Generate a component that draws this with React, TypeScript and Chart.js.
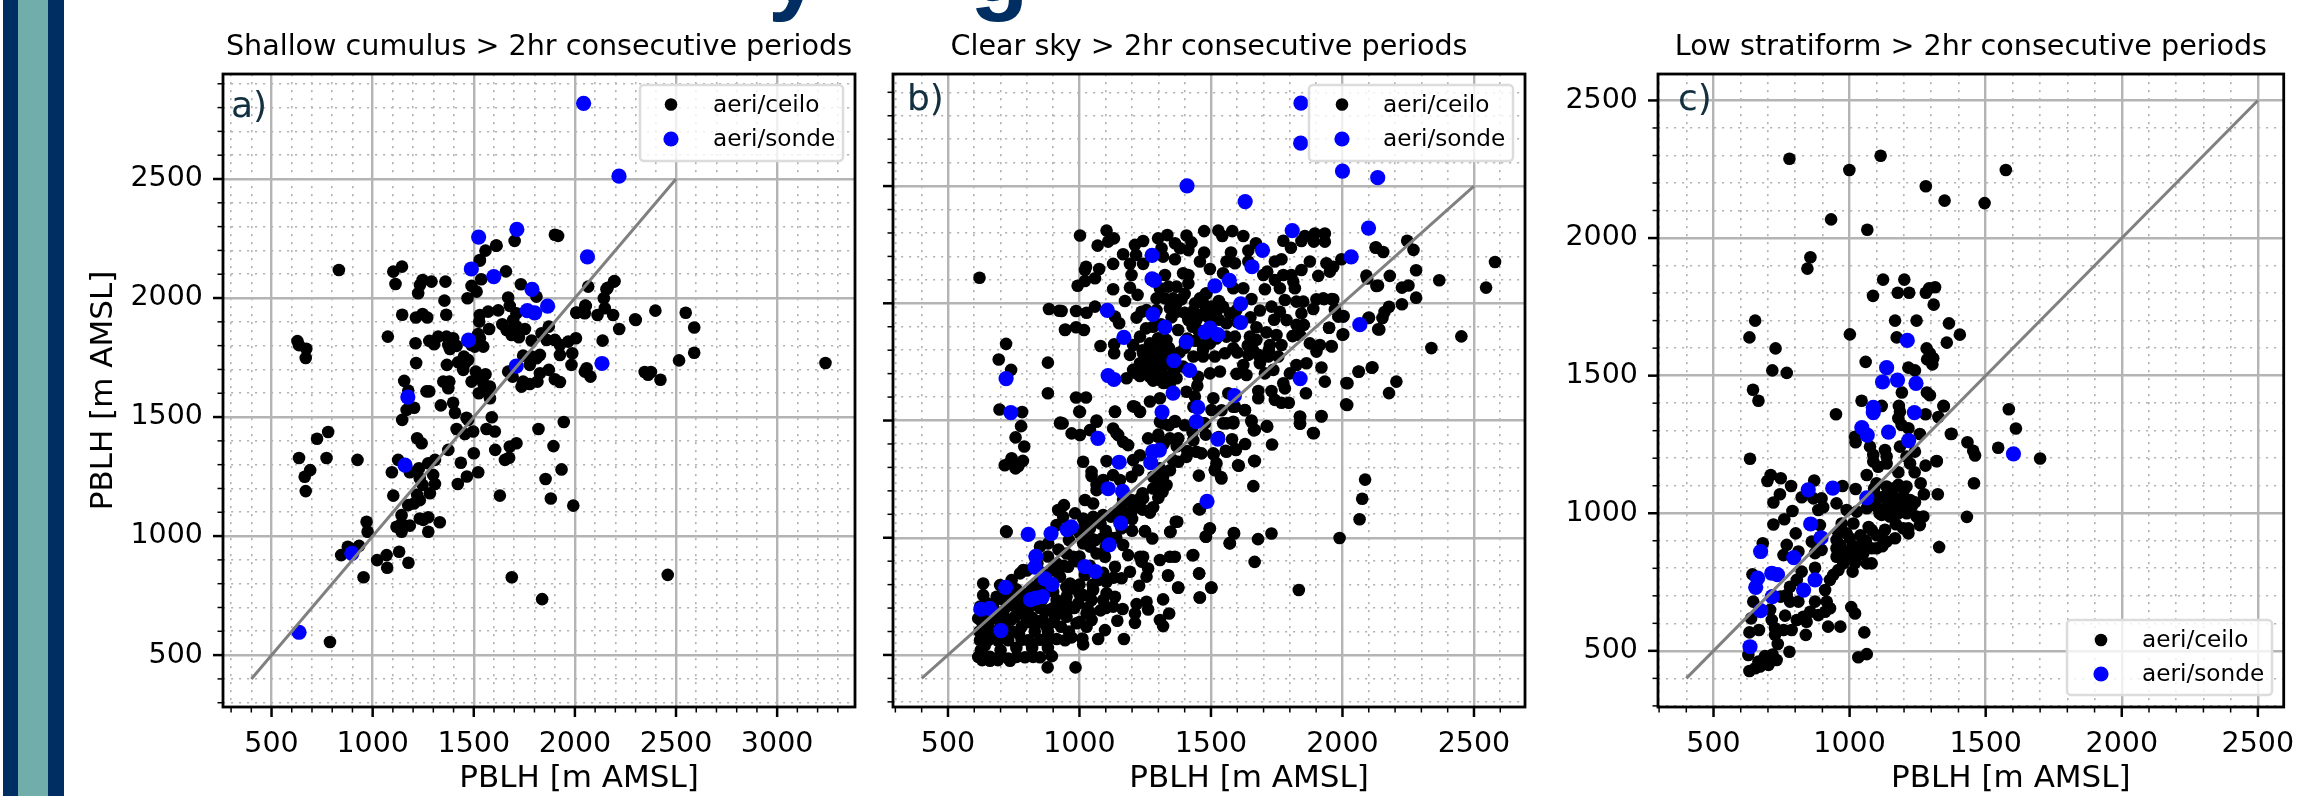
import { useEffect, useRef } from "react";
import { Chart, registerables } from "chart.js";

Chart.register(...registerables);

const seriesLabels = ["aeri/ceilo", "aeri/sonde"];
const axisLabel = "PBLH [m AMSL]";
const oneToOne = [[400, 400], [2500, 2500]];

const shallowCeilo = [
[1102,2111],[1145,2132],[1113,2059],[1291,2069],[1247,2076],[1234,2055],[1225,2020],[1360,2069],[1355,1989],[1364,1930],[1146,1930],[1214,1918],[1247,1933],[1270,1918],[1075,1838],[1212,1810],[1280,1820],[1304,1806],[1324,1838],[1365,1838],[1398,1831],[1374,1803],[1415,1799],[1382,1786],[1215,1727],[1367,1719],[1423,1730],[1451,1754],[1472,1740],[1448,1698],[1456,1726],
[1522,1849],[1530,1831],[1547,1796],[1505,1796],[1489,1803],[1530,1929],[1527,1901],[1571,1943],[1621,1948],[1576,1870],[1469,1999],[1489,2051],[1514,2027],[1537,2079],[1530,2157],[1558,2199],[1613,2220],[1659,2112],[1702,2240],[1901,2266],[1917,2261],[1733,2058],[1810,2006],[1670,2002],[1678,1967],[1711,1936],[1695,1908],[1641,1890],[1662,1866],[1687,1845],[1723,1835],[1753,1870],[1711,1880],[1786,1821],[1835,1852],[1871,1880],[1860,1824],[1901,1824],[1926,1803],[1967,1817],[2005,1831],[1926,1761],[1987,1768],[1983,1719],[1827,1761],[1786,1754],[1744,1758],[1810,1747],[1777,1719],[1670,1691],[1692,1670],[1736,1628],[1744,1649],[1777,1639],[1815,1649],[1827,1684],[1871,1698],[1901,1659],[1926,1647],[2058,1705],[2077,1670],[2049,1691],
[2066,2048],[2156,2037],[2193,2069],[2143,1999],[2148,1957],[2054,1967],[2008,1939],[2049,1936],[2112,1929],[2189,1929],[2219,1870],[2298,1911],[2137,1821],
[1349,1649],[1379,1649],[1374,1621],[1156,1652],[1176,1611],[1266,1608],[1280,1608],[1205,1539],[1168,1530],[1146,1488],[1337,1549],[1398,1560],[1407,1518],[1464,1497],[1510,1691],[1489,1649],[1530,1663],[1558,1680],[1547,1642],[1580,1628],[1571,1607],[1525,1600],[1580,1579],[1589,1499],[1415,1450],[1456,1429],[1497,1439],[1563,1450],[1604,1439],[1820,1450],[1945,1479],[1472,1488],
[1220,1411],[1242,1390],[1374,1362],[1500,1348],[1606,1362],[1678,1376],[1711,1390],[1654,1320],[1675,1329],[1894,1378],[1934,1280],[1436,1308],[1522,1268],[1466,1250],[1421,1219],[1855,1240],[1629,1170],[1881,1158],[1992,1128],[925,1320],[1126,1320],[1095,1268],[1184,1268],[1229,1285],[1275,1306],[1308,1320],[1299,1257],[1233,1243],[1308,1219],[1247,1215],[1283,1180],[1220,1173],[1102,1170],[1233,1151],[1204,1137],[1176,1130],[1143,1088],[1233,1074],[1275,1079],[1332,1058],[1143,1053],[1118,1039],[1184,1044],[1143,1018],[1275,1018],[1250,1068],[970,1060],[975,1018],[1131,934],[1069,920],[1022,899],[1177,888],
[844,920],[877,955],[933,959],[900,945],[1072,867],[955,827],[789,555],[1688,827],[1838,735],[2459,837],[725,1409],[780,1437],[636,1328],[772,1328],[691,1277],[664,1249],[669,1189],[628,1819],[636,1802],[672,1787],[669,1748],[833,2118],
[2007,1938],[2046,1938],[2051,1968],[2162,2043],[2196,2071],[2301,1908],[2398,1947],[2548,1938],[2590,1876],[2590,1770],[2515,1738],[3239,1727],[2345,1689],[2376,1689],[2362,1678],[2423,1657],[1530,2160],[1610,2220],
];
const shallowSonde = [
[2043,2818],[2218,2512],[1524,2256],[1713,2288],[2062,2173],[1488,2122],[1599,2090],[1788,2036],[1865,1966],[1765,1947],[1801,1938],[1474,1823],[1710,1714],[2134,1725],[1174,1584],[1160,1298],[897,927],[636,596],
];

const clearCeilo = [
[1002,2289],[1103,2310],[1131,2277],[1109,2263],[1069,2246],[1211,2249],[1242,2266],[1299,2277],[1334,2291],[1363,2256],[1407,2289],[1426,2260],[1414,2227],[1382,2235],[1312,2235],[1474,2308],[1528,2310],[1543,2287],[1581,2308],[1623,2287],[1166,2209],[1215,2206],[1192,2168],[1242,2168],[1318,2199],[1363,2188],[1458,2178],[1474,2217],[1576,2217],[1559,2178],[1591,2171],[1642,2225],[1642,2178],[1671,2256],[1775,2267],[1804,2237],[1857,2287],[1844,2266],[1895,2298],[1933,2298],[1891,2263],[1933,2263],[1996,2188],[2126,2237],[1939,2171],[1965,2156],[1952,2135],[1876,2178],[1844,2142],[1768,2188],[1743,2178],[1714,2135],[1699,2121],[1743,2099],[1775,2121],[1806,2121],[1813,2092],[1819,2064],[1762,2064],[1705,2060],[1908,2117],[2091,2118],[2129,2074],
[1025,2156],[1075,2146],[1021,2142],[1128,2168],[1059,2107],[1021,2095],[993,2075],[1198,2121],[1192,2067],[1128,2060],[1221,2036],[1173,2010],[1293,2021],[1306,2064],[1325,2121],[1338,2071],[1369,2071],[1394,2128],[1414,2121],[1414,2085],[1388,2017],[1356,2021],[1325,2021],[1458,2021],[1483,2043],[1470,2000],[1496,2146],[1546,2128],[1585,2064],[1623,2064],[1654,2018],[1546,1986],[1502,1986],[1572,1957],[1433,1967],[1369,1964],[1344,1979],[1236,1964],[1217,1939],[1059,1986],[1027,1960],[987,1967],[932,1967],[1151,1915],[1135,1943],[945,1886],[987,1898],[1017,1886],[1253,1893],[1230,1858],[1299,1851],[1204,1822],[1192,1780],[1132,1825],[1080,1818],[1132,1787],[1375,1886],[1331,1844],[1306,1801],[1274,1787],[1255,1751],[1230,1744],[1414,1929],[1445,1929],[1451,1886],[1496,1829],[1470,1822],[1470,1773],[1515,1773],[1553,1787],[1585,1808],[1591,1858],
[1686,1969],[1730,1986],[1762,1964],[1673,1898],[1648,1858],[1673,1844],[1711,1876],[1749,1865],[1724,1822],[1768,1822],[1787,1929],[1825,1908],[1853,1908],[1838,1865],[1876,1829],[1914,1822],[1901,1794],[1958,1818],[1949,1896],[2003,1868],[1984,1943],[2003,1943],[1927,2021],[1965,2017],[1901,2017],[1825,2007],[1851,2007],[1781,2014],[1889,1976],[1844,1957],[2101,1939],[2136,1889],[1642,1780],[1680,1780],[1718,1773],[1756,1773],[1686,1744],[1623,1737],[1635,1694],[1597,1699],[1705,1701],[1737,1716],[1825,1737],[1863,1744],[1920,1726],[1800,1701],[1775,1659],[1781,1637],[1933,1666],[1861,1616],[2019,1659],[2018,1566],[2062,1709],[2114,1727],[1730,1626],[1743,1588],[1768,1576],[1796,1576],[1680,1626],[1680,1595],[1629,1545],[1591,1559],[1566,1616],[1509,1595],[1502,1545],[1496,1701],[1534,1709],[1451,1687],[1448,1648],[1407,1623],[1439,1602],[1306,1595],[1268,1581],[1211,1559],[1230,1538],[1135,1538],[999,1538],[987,1598],[1025,1598],[1477,1488],[1433,1559],[1363,1498],[1306,1495],[1065,1500],[936,1488],[1546,1488],[1585,1495],[1654,1500],[1714,1474],[1667,1460],[1838,1517],[1838,1488],[1920,1517],[1891,1446],
[1217,1701],[1249,1701],[1179,1680],[1204,1716],[1268,1730],[1293,1701],[1331,1687],[1369,1680],[1306,1673],[1344,1659],[1242,1787],[1280,1744],[1325,1737],[1470,1801],[1394,1730],[1268,1829],[1293,1971],[1255,1971],[1369,2000],[1483,1986],[1521,1964],[1559,1915],[1597,1971],[1306,1758],[1356,1773],[1268,1687],[1433,1773],[1483,1879],[1559,1858],
[1240,1800],[1260,1760],[1290,1780],[1310,1830],[1340,1810],[1350,1750],[1380,1790],[1410,1850],[1430,1900],[1460,1950],[1500,1900],[1530,1930],[1520,1850],[1440,1840],[1400,1810],[1230,1690],[1290,1730],[1330,1780],[1360,1710],[1300,1720],[1260,1700],[1280,1670],[1320,1660],[1400,2040],[1440,2000],[1480,2040],[1530,2010],[1350,1940],[1310,1910],[1280,1900],[1400,1960],[1490,1940],[1600,1920],[1650,1940],[1740,1930],[1810,1860],[1720,1800],[1640,1820],[1600,1790],[1660,1800],
[1340,1480],[1400,1480],[1430,1450],[1480,1440],[1530,1430],[1580,1420],[1630,1400],[1300,1440],[1320,1400],[1370,1390],[1410,1370],
[620,2109],[721,1827],[693,1760],[740,1716],[696,1547],[782,1536],[778,1476],[757,1428],[790,1389],[742,1339],[785,1328],[716,1309],[757,1296],[736,1320],[768,1306],[880,1747],[880,1616],[884,1976],[923,1968],[946,1888],[927,1491],[721,1027],
[2580,2176],[2546,2067],[2368,2098],[2452,1859],[2338,1809],[2280,2141],[2280,2024],[2270,2228],[2246,2267],[2155,2219],[2127,2239],[2180,2117],[2135,2076],[2094,2106],[2226,2067],[2251,2076],[2226,1996],[2177,1985],[2160,1963],[2152,1937],[2099,1937],[2140,1888],[2111,1725],[2061,1708],[2205,1666],[2177,1617],[2015,1660],[2014,1569],[2000,1866],[1959,1816],[1949,1896],[2004,1946],[1971,1974],[1959,2018],[1930,2018],[1920,1519],[1888,1447],[1839,1515],[1839,1486],[2086,1248],[2075,1166],[2065,1079],[1989,999],[1834,777],[1730,1018],[1679,994],[1666,897],[1571,977],[1587,1020],[1661,1220],[1664,1328],[1732,1398],[1712,1476],[1663,1458],[1603,1309],[1592,1378],[1556,1371],[1538,1259],[1515,1291],[1510,1356],[1454,1265],[1454,1122],[1495,1038],[1480,1005],[1430,925],[1455,847],[1501,788],[1457,745],[1375,788],[1337,840],[1366,1068],[1345,1025],[1249,1027],
[615,492],[641,490],[660,492],[691,487],[729,485],[761,492],[793,490],[824,492],[850,490],[879,447],[985,447],[895,495],[736,475],[660,475],[630,478],[690,478],
[622,563],[653,563],[691,560],[729,563],[780,565],[805,563],[850,565],[875,560],[913,568],[945,563],[970,575],[1011,570],[1014,545],[1071,568],[1169,568],[1097,606],
[615,656],[660,649],[710,677],[755,663],[780,620],[799,649],[837,635],[875,620],[907,663],[951,663],[989,635],[1027,620],[1046,649],[1027,677],[945,677],
[622,706],[672,706],[723,706],[774,706],[812,706],[850,706],[907,684],[995,720],[1046,734],[1090,734],[1128,706],[1164,696],
[634,755],[685,748],[729,763],[767,734],[799,720],[913,734],[951,748],[1014,755],[1052,777],[1103,763],[1135,748],
[634,805],[698,798],[742,819],[774,848],[786,862],[850,819],[926,834],[964,805],[976,784],[1021,841],[1071,819],[1103,812],[1160,827],[1192,855],[1227,795],[1255,834],[1261,869],
[850,962],[881,976],[913,890],[951,933],[976,919],[957,876],[1014,976],[1040,962],[1065,933],[1097,919],[1135,876],[1166,969],[1185,926],[1230,919],[1242,919],[1236,898],[1306,905],[1344,919],[1363,919],[1433,926],[1337,838],[1455,848],[1376,787],[1502,787],[1458,745],[1318,737],[1255,727],[1217,717],[1261,694],[1211,677],[1341,677],[1144,646],[1211,637],[1306,649],[1318,623],
[723,1025],[913,1054],[938,1089],[919,1118],[941,1139],[983,1104],[1014,1082],[1052,1089],[1090,1097],[1128,1104],[1160,1132],[1198,1111],[1217,1132],[1242,1168],[1268,1107],[1249,1028],[1277,997],[1346,1025],[1372,1068],[1481,1004],[1496,1040],[1588,1018],[1572,976],[1458,1121],[1540,1253],[1606,1307],[1667,1327],[1521,1317],[1515,1288],[1559,1367],[1595,1374],[1509,1360],[1445,1367],[1407,1345],[1464,1360],[1376,1324],[1344,1288],[1318,1260],[1331,1225],[1316,1196],[1230,1168],[1198,1161],[1166,1161],[1052,1146],[1021,1161],[1065,1203],[1090,1246],[1128,1267],[1154,1246],[1198,1260],[1223,1288],[1280,1260],[1306,1296],[1356,1331],[1433,1416],[1376,1424],[1344,1424],[1299,1431],[1261,1424],[1230,1352],[1204,1331],[1185,1395],[1166,1409],[1141,1445],[1128,1466],[1147,1438],[1065,1495],[1040,1459],[1002,1438],[970,1445],[926,1488],[1002,1537],[1135,1537],[1230,1537],[1204,1561],[1318,1488],[1363,1495],[1540,1544],[1471,1488],[1559,1488],[1585,1488],[1654,1495],[1629,1544],[1585,1559],[1014,1324],[1103,1327],[1046,1281],[1046,1263],[1065,1225],
[650,620],[700,640],[740,650],[790,680],[820,660],[860,650],[880,690],[940,700],[980,700],[1030,700],[650,720],[700,740],[760,780],[820,790],[860,780],[900,770],[800,860],[840,890],[880,920],[920,950],[960,990],[1000,1020],[1040,1040],[1080,1060],[1120,1090],[1160,1100],[1200,1150],[1240,1190],[1280,1210],[1300,1240],[1120,1000],[1160,1040],[1090,1000],[680,670],[640,690],[630,640],[625,690],[625,520],[700,520],[760,530],[820,530],[880,530],[640,540],[680,600],[720,610],[770,590],[830,600],[880,600],[930,620],[960,600],[1000,640],[1040,680],[1080,690],[1100,700],
[620,600],[640,580],[660,610],[700,590],[745,600],[810,640],[900,640],[850,700],[830,760],[790,760],[740,720],[700,680],[760,700],[800,730],[860,740],[900,700],[950,720],[1000,760],[1050,800],[1000,800],[950,790],[900,800],[860,850],[900,860],[940,880],[990,900],[1040,880],[1090,850],[1130,830],[1000,920],[1060,990],[1100,1030],[960,1030],[1020,1050],[1100,960],[1040,1000],[1140,1000],[1200,1030],[1200,1080],[1240,1120],[1300,1170],[1280,1130],
];
const clearSonde = [
[1842,2854],[1841,2683],[2000,2564],[2134,2536],[1409,2501],[1630,2434],[1809,2310],[2099,2321],[1696,2226],[2033,2198],[1276,2204],[1656,2156],[1276,2104],[1285,2098],[1570,2098],[1515,2074],[1613,1998],[1106,1970],[1279,1953],[1613,1918],[1325,1898],[2066,1909],[1169,1855],[1496,1894],[1477,1877],[1526,1866],[1406,1835],[1359,1755],[1419,1714],[1109,1692],[1131,1675],[721,1679],[1839,1679],[1356,1617],[1589,1606],[739,1534],[1314,1536],[1450,1556],[1444,1495],[1070,1424],[1526,1421],[1304,1374],[1279,1367],[1271,1320],[1151,1322],[1109,1209],[1164,1198],[1485,1155],[1157,1062],[1113,970],[805,1014],[892,1018],[953,1035],[969,1046],[834,921],[831,875],[1020,877],[1060,856],[869,825],[895,801],[719,788],[859,749],[834,743],[814,736],[625,695],[658,699],[701,604],
];

const stratCeilo = [
[779,2288],[1114,2299],[999,2247],[1574,2247],[1280,2188],[1349,2136],[1496,2127],[932,2068],[1065,2030],[856,1930],[845,1889],[1123,1849],[1201,1849],[1086,1790],[1177,1801],[1219,1801],[1280,1801],[1292,1817],[1314,1821],[1309,1758],[1365,1690],[1405,1649],[1585,1378],[1611,1308],[1546,1238],[1700,1199],[1433,1258],[1454,1227],[1461,1210],[1457,1109],[1431,987],[1372,1288],[1346,1389],[1320,1190],
[653,1700],[632,1639],[1001,1650],[728,1599],[716,1519],[769,1510],[645,1449],[665,1409],[634,1198],[950,1360],[1059,1550],[1167,1700],[1246,1700],[1173,1639],[1357,1620],[1283,1599],[1295,1581],[1307,1563],[1285,1559],[1304,1541],[1216,1529],[1240,1519],[1192,1439],[1284,1439],[1295,1429],[1044,1409],[1118,1390],[1181,1390],[1185,1369],[1179,1345],[1279,1360],[1345,1390],[1326,1350],[1375,1289],[1191,1321],[1216,1309],[1258,1288],[1020,1278],[1022,1258],[1075,1242],[1087,1212],[1087,1188],[1105,1169],[1136,1181],[1130,1230],[1136,1206],[1185,1242],[1209,1206],[1240,1224],[1222,1181],[1279,1173],[1320,1189],[1239,1149],[1179,1149],[1063,1139],
[710,1139],[698,1117],[747,1127],[785,1099],[744,1069],[720,1039],[790,1008],[760,978],[720,959],[802,927],[824,1058],[870,1119],[974,1099],[1022,1088],[1261,1109],[1273,1069],[1324,1069],[1329,877],[1209,1097],[1179,1103],
[1099,1109],[1136,1097],[1124,1060],[1160,1060],[1197,1060],[1222,1048],[1228,1024],[1173,1024],[1136,1018],[1099,1024],[1063,1018],[1148,988],[1179,1000],[1246,988],[1271,988],[1258,957],[1118,994],[1026,1006],[989,1012],[1014,963],[971,963],[959,927],[989,927],[1001,909],[952,903],[1081,939],[1197,945],[1216,945],[1216,927],[1167,909],[1136,897],[1099,873],[1056,885],[1032,848],[989,842],[952,873],[952,842],[977,818],[959,794],[1063,818],[1081,818],[1011,788],[940,776],[928,758],[1124,903],[1081,873],[1050,855],[1026,855],[965,885],[891,957],[885,1012],[903,1022],[952,1036],[897,1054],[867,1054],[861,897],[897,867],[873,855],[769,885],[757,848],[812,861],[681,891],
[1100,1060],[1140,1040],[1180,1040],[1200,1020],[1110,1000],[1150,1010],[1210,1000],[1170,960],[1130,940],[1100,920],[1060,900],[1030,880],[1000,860],[975,860],[1020,820],[1120,880],[1070,950],[1040,920],[1010,880],[1240,1040],[1090,1090],[1200,1085],[1160,1090],
[643,778],[824,788],[873,802],[910,721],[806,758],[781,733],[769,703],[812,679],[781,679],[747,697],[873,679],[916,679],[928,655],[910,642],[885,630],[855,642],[830,624],[842,606],[806,612],[763,628],[787,576],[757,576],[726,582],[714,612],[708,649],[646,679],[638,618],[632,567],[667,576],[726,558],[736,525],[839,558],[779,497],[921,588],[966,588],[1054,567],[1006,659],[1020,636],[1032,477],[1063,488],
[628,485],[632,427],[653,437],[665,461],[689,461],[702,449],[671,443],[717,487],[732,467],[689,481],
];
const stratSonde = [
[1212,1628],[1136,1529],[1121,1477],[1176,1484],[1244,1472],[1087,1385],[1087,1366],[1238,1366],[1045,1311],[1065,1284],[1143,1295],[1217,1264],[848,1085],[938,1091],[1063,1056],[857,961],[895,911],[673,861],[795,839],[714,782],[735,777],[662,764],[655,731],[873,758],[831,721],[716,697],[673,646],[634,515],[1602,1216],
];

const titleA = "Shallow cumulus > 2hr consecutive periods";
const titleB = "Clear sky > 2hr consecutive periods";
const titleC = "Low stratiform > 2hr consecutive periods";

const FONT = "'DejaVu Sans'";
const TICK = (min: number, max: number) => {
  const out: number[] = [];
  for (let v = Math.ceil(min / 100) * 100; v <= max; v += 100) out.push(v);
  return out;
};

type Panel = {
  title: string; tag: string; ceilo: number[][]; sonde: number[][];
  left: number; width: number; axisW: number; padR: number;
  x: [number, number]; y: [number, number];
  showY: boolean; yTitle: boolean;
  legend: { l: number; t: number; w: number; h: number; mx: number; tx: number; y1: number; y2: number };
  tagX: number; tagY: number;
};

const panels: Panel[] = [
  { title: titleA, tag: "a)", ceilo: shallowCeilo, sonde: shallowSonde, left: 70, width: 805, axisW: 153, padR: 20,
    x: [260, 3385], y: [282, 2941], showY: true, yTitle: true,
    legend: { l: 640, t: 85, w: 203, h: 76, mx: 671, tx: 713, y1: 104.5, y2: 139 }, tagX: 231, tagY: 108 },
  { title: titleB, tag: "b)", ceilo: clearCeilo, sonde: clearSonde, left: 875, width: 685, axisW: 18, padR: 35,
    x: [291, 2694], y: [278, 2978], showY: false, yTitle: false,
    legend: { l: 1309, t: 85, w: 204, h: 76, mx: 1342, tx: 1383, y1: 104.5, y2: 139 }, tagX: 907, tagY: 101 },
  { title: titleC, tag: "c)", ceilo: stratCeilo, sonde: stratSonde, left: 1560, width: 745, axisW: 98, padR: 21,
    x: [296, 2595], y: [296, 2596], showY: true, yTitle: false,
    legend: { l: 2067, t: 620, w: 205, h: 75, mx: 2101, tx: 2142, y1: 640, y2: 674 }, tagX: 1678, tagY: 101 },
];

const frame = {
  id: "frame",
  afterDatasetsDraw(chart: any, _a: any, o: any) {
    const { ctx, chartArea: ca, scales } = chart;
    ctx.save();
    ctx.strokeStyle = "#000";
    for (const t of scales.x.ticks) {
      const major = t.value % 500 === 0;
      const p = scales.x.getPixelForValue(t.value);
      ctx.lineWidth = major ? 2.5 : 1.5;
      ctx.beginPath(); ctx.moveTo(p, ca.bottom); ctx.lineTo(p, ca.bottom + (major ? 10 : 5.5)); ctx.stroke();
    }
    for (const t of scales.y.ticks) {
      const major = t.value % 500 === 0;
      const p = scales.y.getPixelForValue(t.value);
      ctx.lineWidth = major ? 2.5 : 1.5;
      ctx.beginPath(); ctx.moveTo(ca.left, p); ctx.lineTo(ca.left - (major ? 10 : 5.5), p); ctx.stroke();
    }
    ctx.lineWidth = 2.8;
    ctx.strokeRect(ca.left, ca.top, ca.width, ca.height);
    ctx.fillStyle = "#000";
    ctx.font = `31px ${FONT}`;
    ctx.textAlign = "center"; ctx.textBaseline = "middle";
    ctx.fillText(axisLabel, (ca.left + ca.right) / 2 + 40, 779);
    ctx.fillStyle = "#12303f";
    ctx.font = `36px ${FONT}`;
    ctx.textAlign = "left"; ctx.textBaseline = "middle";
    ctx.fillText(o.tag, o.tagX - o.left, o.tagY);
    const L = o.legend, ox = o.left;
    ctx.beginPath();
    ctx.roundRect(L.l - ox, L.t, L.w, L.h, 4);
    ctx.fillStyle = "rgba(255,255,255,0.8)"; ctx.fill();
    ctx.strokeStyle = "#dcdcdc"; ctx.lineWidth = 2.5; ctx.stroke();
    const ds = chart.data.datasets;
    [[ds[0], L.y1], [ds[1], L.y2]].forEach(([d, y]: any) => {
      ctx.fillStyle = d.backgroundColor;
      ctx.beginPath(); ctx.arc(L.mx - ox, y, d.pointRadius, 0, Math.PI * 2); ctx.fill();
      ctx.fillStyle = "#000";
      ctx.font = `23.2px ${FONT}`;
      ctx.textAlign = "left"; ctx.textBaseline = "middle";
      ctx.fillText(d.label, L.tx - ox, y + 1);
    });
    ctx.restore();
  },
};

function axis(p: Panel, lim: [number, number], horizontal: boolean, showLabels: boolean, titleOn: boolean) {
  return {
    type: "linear", min: lim[0], max: lim[1],
    afterBuildTicks(s: any) { s.ticks = TICK(lim[0], lim[1]).map((value) => ({ value })); },
    afterFit(s: any) { if (horizontal) s.height = 89; else s.width = p.axisW; },
    title: { display: titleOn, text: axisLabel, color: "#000", font: { family: FONT, size: 31 }, padding: { top: 15, bottom: 0 } },
    border: { display: false, dash: (c: any) => (c.tick && c.tick.value % 500 === 0 ? [] : [2.2, 5.8]) },
    grid: {
      color: "#b4b4b4", tickColor: "rgba(0,0,0,0)", tickLength: 10,
      lineWidth: (c: any) => (c.tick && c.tick.value % 500 === 0 ? 2.4 : 1.6),
    },
    ticks: {
      display: showLabels, autoSkip: false, maxRotation: 0, minRotation: 0, color: "#000",
      padding: horizontal ? 10 : 10, font: { family: FONT, size: 28.5 },
      callback: (v: number) => (v % 500 === 0 ? String(v) : ""),
    },
  };
}

function PanelChart({ p }: { p: Panel }) {
  const ref = useRef<HTMLCanvasElement>(null);
  useEffect(() => {
    const chart = new Chart(ref.current as any, {
      type: "scatter",
      plugins: [frame],
      data: {
        datasets: [
          { label: seriesLabels[0], data: p.ceilo.map(([x, y]) => ({ x, y })), backgroundColor: "#000", pointRadius: 6.3, pointBorderWidth: 0, pointHoverRadius: 6.3, order: 3 },
          { label: seriesLabels[1], data: p.sonde.map(([x, y]) => ({ x, y })), backgroundColor: "#0000ff", pointRadius: 7.6, pointBorderWidth: 0, pointHoverRadius: 7.6, order: 2 },
          { label: "1:1", data: oneToOne.map(([x, y]) => ({ x, y })), showLine: true, borderColor: "#808080", borderWidth: 3, pointRadius: 0, order: 1 },
        ],
      },
      options: {
        animation: false, responsive: false, events: [],
        layout: { padding: { top: 0, left: 0, right: p.padR, bottom: 0 } },
        scales: {
          x: axis(p, p.x, true, true, false),
          y: axis(p, p.y, false, p.showY, p.yTitle),
        },
        plugins: {
          legend: { display: false }, tooltip: { enabled: false },
          title: { display: true, text: p.title, fullSize: false, color: "#000", font: { family: FONT, size: 28.6, weight: "normal", lineHeight: 1.2 }, padding: { top: 30.5, bottom: 9.2 } },
          frame: { tag: p.tag, tagX: p.tagX, tagY: p.tagY, left: p.left, legend: p.legend },
        },
      } as any,
    } as any);
    return () => chart.destroy();
  }, [p]);
  return <canvas ref={ref} width={p.width} height={796} style={{ position: "absolute", left: p.left, top: 0, width: p.width, height: 796 }} />;
}

const glyph = { position: "absolute", top: -79, fontFamily: "'Liberation Sans'", fontWeight: 700, fontSize: 96, lineHeight: "96px", color: "#002e62" } as const;

export default function App() {
  return (
    <div style={{ position: "fixed", left: 0, top: 0, width: 2305, height: 796, overflow: "hidden", background: "#fff" }}>
      <div style={{ position: "absolute", left: 3, top: 0, width: 15, height: 796, background: "#002e62" }} />
      <div style={{ position: "absolute", left: 18, top: 0, width: 30, height: 796, background: "#71adab" }} />
      <div style={{ position: "absolute", left: 48, top: 0, width: 16, height: 796, background: "#002e62" }} />
      <span style={{ ...glyph, left: 768 }}>y</span>
      <span style={{ ...glyph, left: 970 }}>g</span>
      {panels.map((p) => <PanelChart key={p.tag} p={p} />)}
    </div>
  );
}
